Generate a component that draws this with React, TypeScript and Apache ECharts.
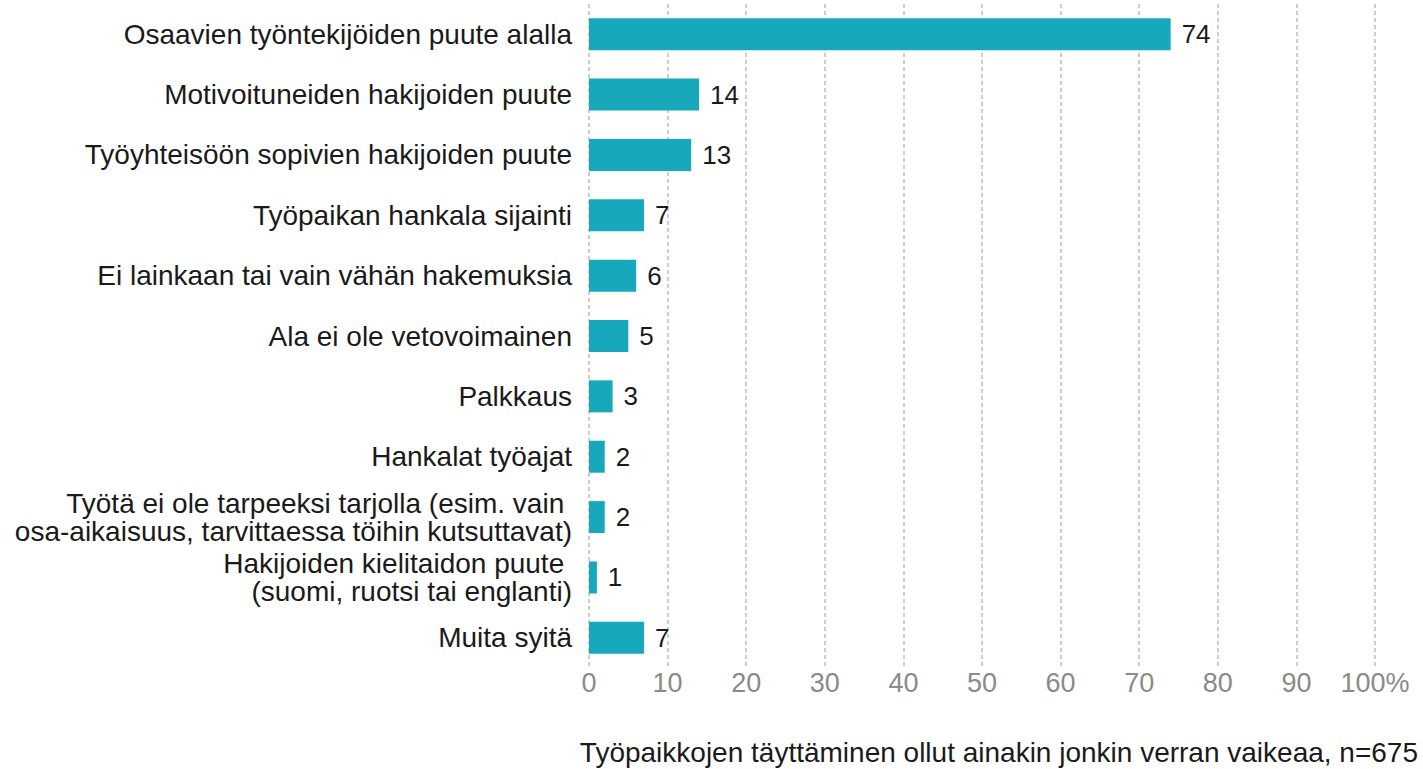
import React, { useEffect, useRef } from "react";
import * as echarts from "echarts";

const categories = [
  "Osaavien työntekijöiden puute alalla",
  "Motivoituneiden hakijoiden puute",
  "Työyhteisöön sopivien hakijoiden puute",
  "Työpaikan hankala sijainti",
  "Ei lainkaan tai vain vähän hakemuksia",
  "Ala ei ole vetovoimainen",
  "Palkkaus",
  "Hankalat työajat",
  "Työtä ei ole tarpeeksi tarjolla (esim. vain \nosa-aikaisuus, tarvittaessa töihin kutsuttavat)",
  "Hakijoiden kielitaidon puute \n(suomi, ruotsi tai englanti)",
  "Muita syitä",
];
const values = [74, 14, 13, 7, 6, 5, 3, 2, 2, 1, 7];
const xTicks = [0, 10, 20, 30, 40, 50, 60, 70, 80, 90, 100];
const axisTitle = "Työpaikkojen täyttäminen ollut ainakin jonkin verran vaikeaa, n=675";

const FONT = "Liberation Sans, Arial, sans-serif";

export default function App() {
  const ref = useRef<HTMLDivElement>(null);
  useEffect(() => {
    if (!ref.current) return;
    const chart = echarts.init(ref.current, null, { renderer: "svg" });
    chart.setOption({
      animation: false,
      textStyle: { fontFamily: FONT },
      grid: { left: 589, right: 48, top: 4, bottom: 101, containLabel: false },
      xAxis: {
        type: "value",
        min: 0,
        max: 100,
        interval: 10,
        axisLine: { show: false },
        axisTick: { show: false },
        splitLine: { show: true, lineStyle: { type: [4, 3], color: "#bdbdbd", width: 1.5 } },
        axisLabel: {
          color: "#8a8a8a",
          fontSize: 27,
          margin: 1,
          formatter: (v: number) => (v === xTicks[xTicks.length - 1] ? v + "%" : String(v)),
        },
      },
      yAxis: {
        type: "category",
        inverse: true,
        data: categories,
        axisLine: { show: false },
        axisTick: { show: false },
        axisLabel: {
          color: "#1a1a1a",
          fontSize: 28,
          margin: 17,
          lineHeight: 28,
          align: "right",
        },
      },
      series: [
        {
          type: "bar",
          data: values,
          barWidth: 32,
          itemStyle: { color: "#17a8bc" },
          label: {
            show: true,
            position: "right",
            distance: 11,
            color: "#1a1a1a",
            fontSize: 26,
          },
        },
      ],
      graphic: [
        {
          type: "text",
          right: 5,
          top: 738,
          style: { text: axisTitle, fontSize: 28, fill: "#1a1a1a", fontFamily: FONT },
        },
      ],
    });
    return () => chart.dispose();
  }, []);
  return <div ref={ref} style={{ width: 1423, height: 769, position: "absolute", left: 0, top: 0 }} />;
}
